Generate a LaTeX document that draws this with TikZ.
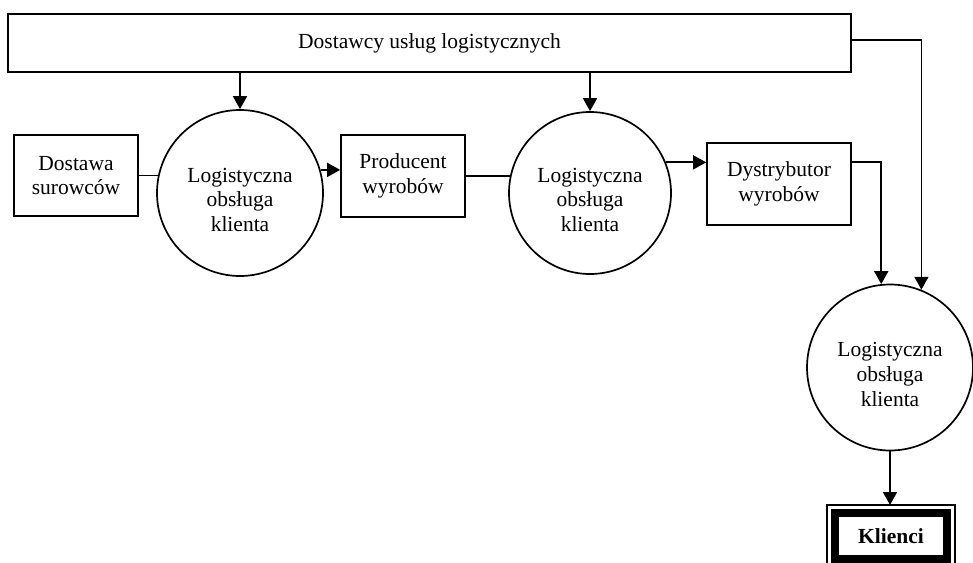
\documentclass[tikz,border=0pt]{standalone}
\usepackage{fontspec}
\setmainfont{Liberation Serif}
\usetikzlibrary{arrows.meta,calc}
\newcommand\mylowstrut{\rule{0pt}{28pt}}
\begin{document}
\begin{tikzpicture}[x=1pt,y=-1pt,
  every node/.style={font=\fontsize{21.5}{24.8}\selectfont, align=center},
  box/.style={draw, line width=1.7pt, rectangle, inner sep=0pt},
  ring/.style={draw, line width=1.7pt, circle, inner sep=0pt},
  ln/.style={line width=1.7pt},
  arr/.style={line width=1.7pt, -{Triangle[length=13pt,width=14pt]}},
  kbox/.style={draw, line width=8pt, rectangle, inner sep=0pt, minimum width=112pt, minimum height=46pt, font=\fontsize{21.5}{24.5}\selectfont\bfseries}
]
\useasboundingbox (0,0) rectangle (973,562);

\node[box, minimum width=843pt, minimum height=58pt] (top) at (429.5,43) {Dostawcy usług logistycznych};
\node[box, minimum width=124pt, minimum height=81pt] (dos) at (76,175.5) {Dostawa\\surowców};
\node[ring, minimum size=166pt] (c1) at (240,193) {\mylowstrut Logistyczna\\obsługa\\klienta};
\node[box, minimum width=124pt, minimum height=82pt] (prod) at (403,176) {Producent\\wyrobów};
\node[ring, minimum size=162pt] (c2) at (590,193) {\mylowstrut Logistyczna\\obsługa\\klienta};
\node[box, minimum width=144pt, minimum height=82pt] (dys) at (779,184) {Dystrybutor\\wyrobów};
\node[ring, minimum size=166pt] (c3) at (890,367.5) {\mylowstrut Logistyczna\\obsługa\\klienta};
\node[kbox] (kl) at (891,536) {Klienci};
\draw[line width=1.4pt] ($(kl.north west)+(-4,-4)$) rectangle ($(kl.south east)+(4,14)$);
\coordinate (klo) at ($(kl.north)+(0,-4)$);

% connectors
\draw[arr] (c1.north |- top.south) -- (c1.north);
\draw[arr] (c2.north |- top.south) -- (c2.north);
\draw[ln] (dos.east) -- (c1.167 |- dos.east);
\draw[arr] (c1.16) -- (c1.16 -| prod.west);
\draw[ln] (prod.east) -- (c2.168 |- prod.east);
\draw[arr] (c2.22) -- (c2.22 -| dys.west);
\draw[arr] ([yshift=3pt]top.east) -| (c3.68);
\draw[arr] ([yshift=22pt]dys.east) -| (c3.96);
\draw[arr] (c3.south) -- (c3.south |- klo);
\end{tikzpicture}
\end{document}
